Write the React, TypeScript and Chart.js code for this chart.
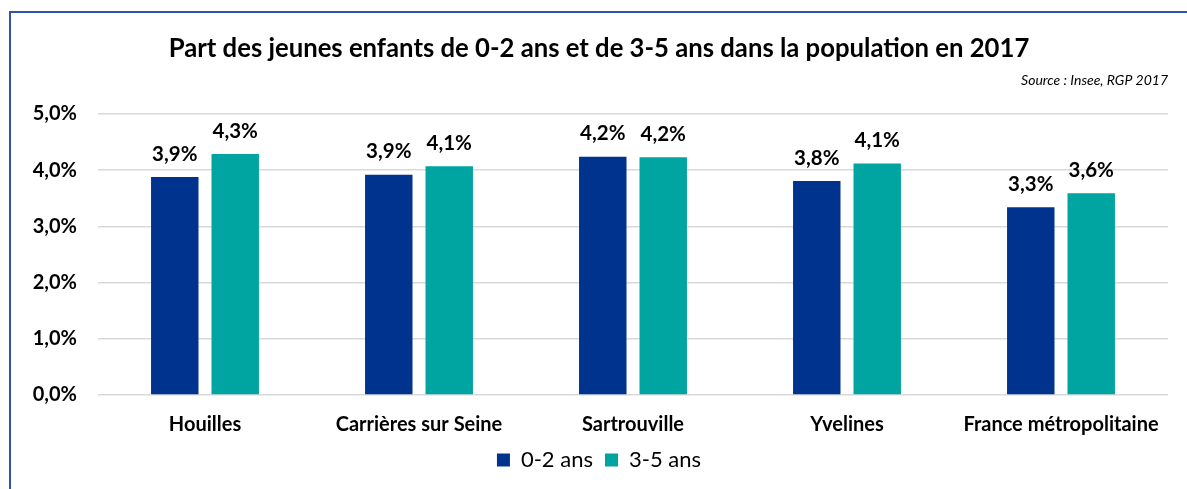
import React, { useEffect, useRef } from "react";
import { Chart, registerables } from "chart.js";

Chart.register(...registerables);

const categories = ["Houilles", "Carrières sur Seine", "Sartrouville", "Yvelines", "France métropolitaine"];
const series02 = [3.88, 3.92, 4.24, 3.81, 3.34];
const series35 = [4.29, 4.07, 4.23, 4.12, 3.59];
const seriesNames = ["0-2 ans", "3-5 ans"];
const yTicksMax = 5;
const titleText = "Part des jeunes enfants de 0-2 ans et de 3-5 ans dans la population en 2017";
const sourceText = "Source : Insee, RGP 2017";

const FONT = "Lato, 'Open Sans', sans-serif";
const fmt = (v: number) => v.toFixed(1).replace(".", ",") + "%";

const valueLabels = {
  id: "valueLabels",
  afterDatasetsDraw(chart: any) {
    const { ctx } = chart;
    ctx.save();
    ctx.font = `bold 20.5px ${FONT}`;
    ctx.fillStyle = "#000";
    ctx.textAlign = "center";
    ctx.textBaseline = "middle";
    chart.data.datasets.forEach((ds: any, i: number) => {
      const meta = chart.getDatasetMeta(i);
      meta.data.forEach((bar: any, j: number) => {
        ctx.fillText(fmt(ds.data[j]), bar.x, bar.y - 23);
      });
    });
    ctx.restore();
  },
};

export default function App() {
  const ref = useRef<HTMLCanvasElement>(null);
  useEffect(() => {
    if (!ref.current) return;
    const chart = new Chart(ref.current, {
      type: "bar",
      data: {
        labels: categories,
        datasets: [
          {
            label: seriesNames[0],
            data: series02,
            backgroundColor: "#00338D",
            categoryPercentage: 0.565,
            barPercentage: 0.785,
          },
          {
            label: seriesNames[1],
            data: series35,
            backgroundColor: "#00A5A1",
            categoryPercentage: 0.565,
            barPercentage: 0.785,
          },
        ],
      },
      options: {
        animation: false,
        responsive: false,
        maintainAspectRatio: false,
        layout: { padding: { left: 30, right: 19, top: 0, bottom: 8 } },
        plugins: {
          title: {
            display: true,
            text: titleText,
            color: "#000",
            font: { family: FONT, size: 25.7, weight: "bold", lineHeight: 1.2 },
            padding: { top: 33.6, bottom: 0 },
          },
          subtitle: {
            display: true,
            text: sourceText,
            align: "end",
            color: "#000",
            font: { family: FONT, size: 14, style: "italic", lineHeight: 1.2 },
            padding: { top: 7.2, bottom: 25.6 },
          },
          legend: {
            position: "bottom",
            labels: {
              boxWidth: 13,
              boxHeight: 13,
              padding: 12,
              color: "#000",
              font: { family: FONT, size: 22 },
            },
          },
          tooltip: { enabled: false },
        },
        scales: {
          x: {
            grid: { display: false, drawTicks: false },
            border: { display: false },
            ticks: {
              color: "#000",
              padding: 18,
              font: { family: FONT, size: 20, weight: "bold", lineHeight: 1.2 },
            },
            afterFit: (scale: any) => {
              scale.height = 42;
            },
          },
          y: {
            min: 0,
            max: yTicksMax,
            grid: { color: "#D9D9D9", lineWidth: 1.5, drawTicks: false },
            border: { display: false },
            ticks: {
              stepSize: 1,
              padding: 21,
              color: "#000",
              font: { family: FONT, size: 20, weight: "bold" },
              callback: (v: any) => fmt(Number(v)),
            },
            afterFit: (scale: any) => {
              scale.width = 68;
            },
          },
        },
      },
      plugins: [valueLabels],
    });
    return () => chart.destroy();
  }, []);

  return (
    <div style={{ position: "absolute", left: 0, top: 0, width: 1187, height: 489, overflow: "hidden", background: "#fff" }}>
      <div
        style={{
          position: "absolute",
          left: 9,
          top: 11,
          width: 1200,
          height: 500,
          borderTop: "2px solid #2F55A6",
          borderLeft: "2px solid #2F55A6",
          boxSizing: "border-box",
        }}
      />
      <canvas ref={ref} width={1187} height={489} style={{ position: "absolute", left: 0, top: 0, width: 1187, height: 489 }} />
    </div>
  );
}
